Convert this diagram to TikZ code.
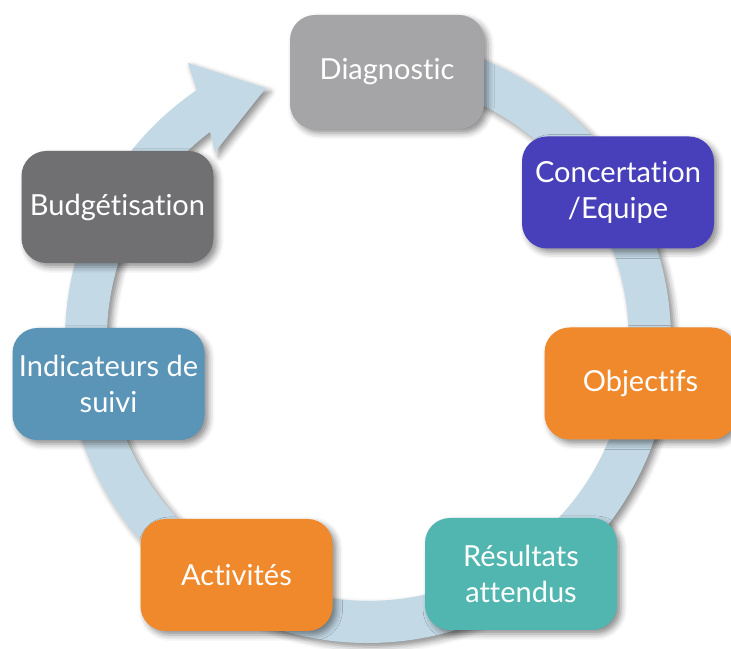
\documentclass[tikz,border=0pt]{standalone}
\usepackage{fontspec}
\setmainfont[RawFeature={-liga;-dlig;-clig}]{Lato}
\usetikzlibrary{shadows.blur,calc}
\definecolor{ringc}{HTML}{C3D9E6}
\definecolor{cdiag}{HTML}{A5A5A7}
\definecolor{cconc}{HTML}{4840BA}
\definecolor{corange}{HTML}{F0892B}
\definecolor{cteal}{HTML}{52B6B0}
\definecolor{cindic}{HTML}{5A94B7}
\definecolor{cbudg}{HTML}{707072}
\tikzset{
  shad/.style={blur shadow={shadow xshift=4pt, shadow yshift=-4pt, shadow blur radius=6pt, shadow opacity=45}},
  stage/.style={shad, rounded corners=25pt, minimum width=192pt, minimum height=112pt,
    inner sep=0pt, text=white, align=center, font=\fontsize{29}{36}\selectfont},
}
\begin{document}
\begin{tikzpicture}[x=1pt,y=1pt]
\useasboundingbox (0,0) rectangle (731,648);
\coordinate (C) at (368,308);
\fill[ringc, shad] ($(C)+(95:303)$) arc[start angle=95, end angle=-235.6, radius=303]
  -- (188,585) -- (266,560) -- (215,496) -- (210,516)
  arc[start angle=-232.8, end angle=95, radius=261] -- cycle;
\node[stage, fill=cdiag, minimum width=194pt, minimum height=114pt] (diag) at (387,576) {Diagnostic};
\node[stage, fill=cconc] (conc) at (618,455.5) {Concertation\\/Equipe};
\node[stage, fill=corange] (obj) at (640.5,264.5) {Objectifs};
\node[stage, fill=cteal] (res) at (521,74) {Résultats\\attendus};
\node[stage, fill=corange] (act) at (236.5,73) {Activités};
\node[stage, fill=cindic] (ind) at (108.5,264) {Indicateurs de\\suivi};
\node[stage, fill=cbudg] (bud) at (117.5,441) {Budgétisation};
\end{tikzpicture}
\end{document}
